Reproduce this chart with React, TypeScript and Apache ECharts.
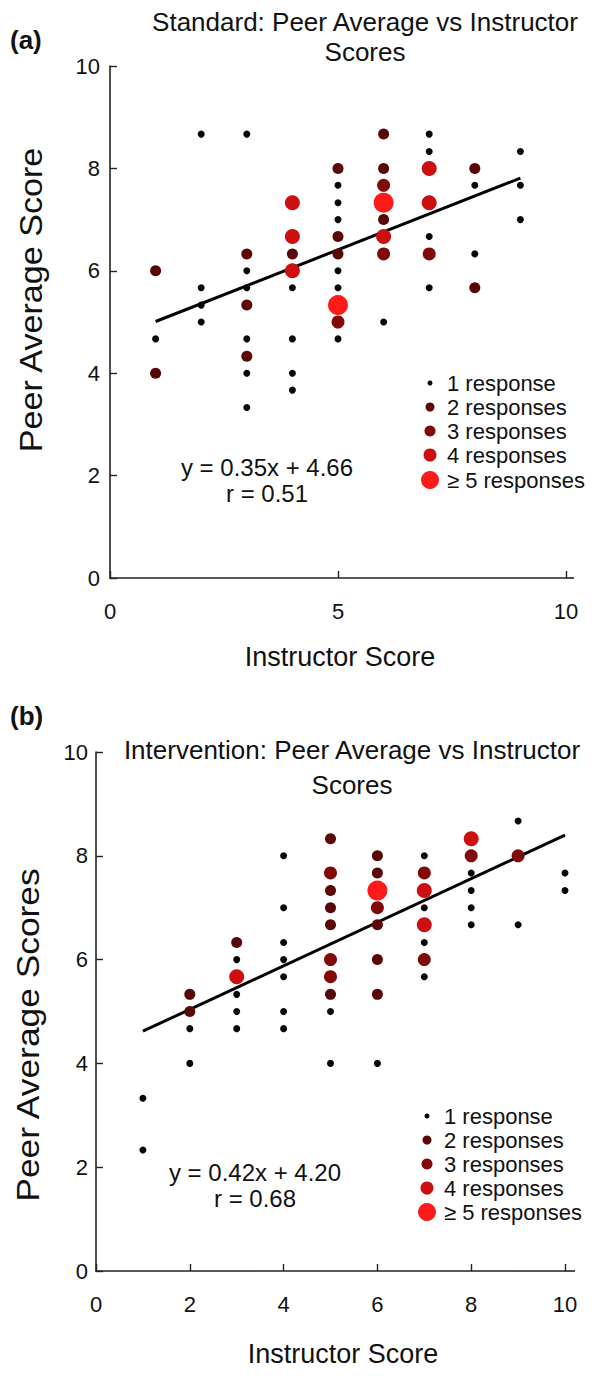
import React, { useEffect, useRef } from "react";
import * as echarts from "echarts";

type Pt = [number, number];

// ---------- Panel (a): Standard ----------
const stdOne: Pt[] = [
  [1, 4.67],
  [2, 8.67], [2, 5.67], [2, 5.33], [2, 5],
  [3, 8.67], [3, 6], [3, 5.67], [3, 4.67], [3, 4], [3, 3.33],
  [4, 5.67], [4, 4.67], [4, 4], [4, 3.67],
  [5, 7.67], [5, 7.33], [5, 7], [5, 6], [5, 5.67], [5, 4.67],
  [6, 5],
  [7, 8.67], [7, 8.33], [7, 6.67], [7, 5.67],
  [8, 7.67], [8, 6.33],
  [9, 8.33], [9, 7.67], [9, 7],
];
const stdTwo: Pt[] = [
  [1, 6], [1, 4],
  [3, 6.33], [3, 5.33], [3, 4.33],
  [4, 6.33],
  [5, 8], [5, 6.67], [5, 6.33],
  [6, 8.67], [6, 8], [6, 7],
  [8, 8], [8, 5.67],
];
const stdThree: Pt[] = [[5, 5], [6, 7.67], [6, 6.33], [7, 6.33]];
const stdFour: Pt[] = [[4, 7.33], [4, 6.67], [4, 6], [6, 6.67], [7, 8], [7, 7.33]];
const stdFive: Pt[] = [[5, 5.33], [6, 7.33]];
const stdSlope = 0.35;
const stdIntercept = 4.66;
const stdR = 0.51;
const stdFitRange = [1, 9];

// ---------- Panel (b): Intervention ----------
const intOne: Pt[] = [
  [1, 3.33], [1, 2.33],
  [2, 4.67], [2, 4],
  [3, 6], [3, 5.33], [3, 5], [3, 4.67],
  [4, 8], [4, 7], [4, 6.33], [4, 6], [4, 5.67], [4, 5], [4, 4.67],
  [5, 5], [5, 4],
  [6, 4],
  [7, 8], [7, 7], [7, 6.33], [7, 5.67],
  [8, 7.67], [8, 7.33], [8, 7], [8, 6.67],
  [9, 8.67], [9, 6.67],
  [10, 7.67], [10, 7.33],
];
const intTwo: Pt[] = [
  [2, 5.33], [2, 5],
  [3, 6.33],
  [5, 8.33], [5, 7.33], [5, 7], [5, 6.67], [5, 5.33],
  [6, 8], [6, 7.67], [6, 6.67], [6, 6], [6, 5.33],
];
const intThree: Pt[] = [[5, 7.67], [5, 6], [5, 5.67], [6, 7], [7, 7.67], [7, 6], [8, 8], [9, 8]];
const intFour: Pt[] = [[3, 5.67], [7, 7.33], [7, 6.67], [8, 8.33]];
const intFive: Pt[] = [[6, 7.33]];
const intSlope = 0.42;
const intIntercept = 4.2;
const intR = 0.68;
const intFitRange = [1, 10];

const stdXTicks = { min: 0, max: 10, interval: 5 };
const intXTicks = { min: 0, max: 10, interval: 2 };
const yTicks = { min: 0, max: 10, interval: 2 };

const responseLabels = ["1 response", "2 responses", "3 responses", "4 responses", "\u2265 5 responses"];
const responseColors = ["#060606", "#5a0707", "#820909", "#cc1010", "#ff1a1a"];
const responseSizes = [7, 11, 13, 15, 20];

const FONT = "'Liberation Sans', Arial, Helvetica, sans-serif";

function fitLine(slope: number, intercept: number, range: number[]): Pt[] {
  return range.map((x) => [x, +(slope * x + intercept).toFixed(4)] as Pt);
}

function txt(text: string, x: number, y: number, size: number, opts: any = {}) {
  return {
    type: "text",
    x,
    y,
    rotation: opts.rotation || 0,
    scaleX: opts.scaleX || 1,
    scaleY: opts.scaleY || 1,
    z: 10,
    style: {
      text,
      fill: "#111",
      fontSize: size,
      fontFamily: FONT,
      fontWeight: opts.bold ? "bold" : "normal",
      align: opts.align || "center",
      verticalAlign: "middle",
      textAlign: opts.align || "center",
      textVerticalAlign: "middle",
    },
  };
}

function legend(markerX: number, textX: number, ys: number[]) {
  const out: any[] = [];
  ys.forEach((y, i) => {
    out.push({
      type: "circle",
      z: 10,
      shape: { cx: markerX, cy: y, r: responseSizes[i] / 2 - (i === 0 ? 1 : 1) },
      style: { fill: responseColors[i] },
    });
    out.push(txt(responseLabels[i], textX, y, 22, { align: "left" }));
  });
  return out;
}

export default function App() {
  const ref = useRef<HTMLDivElement>(null);

  useEffect(() => {
    if (!ref.current) return;
    const chart = echarts.init(ref.current, undefined, { renderer: "svg" });

    const axisCommon = {
      type: "value",
      axisLine: { show: true, lineStyle: { color: "#222", width: 1.6 } },
      axisTick: { show: true, inside: true, length: 7, lineStyle: { color: "#222", width: 1.4 } },
      splitLine: { show: false },
      axisLabel: { color: "#111", fontSize: 22, fontFamily: FONT },
    };

    const groupsA = [stdOne, stdTwo, stdThree, stdFour, stdFive];
    const groupsB = [intOne, intTwo, intThree, intFour, intFive];

    const scatter = (data: Pt[], i: number, idx: number) => ({
      type: "scatter",
      xAxisIndex: idx,
      yAxisIndex: idx,
      data,
      symbol: "circle",
      symbolSize: responseSizes[i],
      itemStyle: { color: responseColors[i], opacity: 1 },
      z: 3 + i,
      silent: true,
    });

    const lineSeries = (data: Pt[], idx: number) => ({
      type: "line",
      xAxisIndex: idx,
      yAxisIndex: idx,
      data,
      symbol: "none",
      lineStyle: { color: "#000", width: 3 },
      z: 2,
      silent: true,
    });

    chart.setOption({
      animation: false,
      backgroundColor: "#fff",
      grid: [
        { left: 110, top: 66, width: 456, height: 512 },
        { left: 96, top: 752, width: 469, height: 519 },
      ],
      xAxis: [
        { ...axisCommon, gridIndex: 0, ...stdXTicks, axisLabel: { ...axisCommon.axisLabel, margin: 22 } },
        { ...axisCommon, gridIndex: 1, ...intXTicks, axisLabel: { ...axisCommon.axisLabel, margin: 22 } },
      ],
      yAxis: [
        { ...axisCommon, gridIndex: 0, ...yTicks, axisLabel: { ...axisCommon.axisLabel, margin: 10 } },
        { ...axisCommon, gridIndex: 1, ...yTicks, axisLabel: { ...axisCommon.axisLabel, margin: 8 } },
      ],
      series: [
        lineSeries(fitLine(stdSlope, stdIntercept, stdFitRange), 0),
        ...groupsA.map((g, i) => scatter(g, i, 0)),
        lineSeries(fitLine(intSlope, intIntercept, intFitRange), 1),
        ...groupsB.map((g, i) => scatter(g, i, 1)),
      ],
      graphic: [
        // axis line extensions past 10
        { type: "line", z: 5, shape: { x1: 566, y1: 578, x2: 574, y2: 578 }, style: { stroke: "#222", lineWidth: 1.6 } },
        { type: "line", z: 5, shape: { x1: 565, y1: 1271, x2: 575, y2: 1271 }, style: { stroke: "#222", lineWidth: 1.6 } },
        // panel (a)
        txt("(a)", 10, 40, 26, { bold: true, align: "left" }),
        txt("Standard: Peer Average vs Instructor", 365, 22, 26),
        txt("Scores", 365, 52, 26),
        txt("Peer Average Score", 32, 300, 31, { rotation: Math.PI / 2, scaleX: 1.1 }),
        txt("Instructor Score", 340, 657, 27),
        txt(`y = ${stdSlope.toFixed(2)}x + ${stdIntercept.toFixed(2)}`, 267, 467, 24),
        txt(`r = ${stdR.toFixed(2)}`, 267, 493, 24),
        ...legend(430, 447, [383, 407, 431, 455, 480]),
        // panel (b)
        txt("(b)", 10, 716, 26, { bold: true, align: "left" }),
        txt("Intervention: Peer Average vs Instructor", 352, 750, 26),
        txt("Scores", 352, 785, 26),
        txt("Peer Average Scores", 28, 1035, 31, { rotation: Math.PI / 2, scaleX: 1.14 }),
        txt("Instructor Score", 343, 1354, 27),
        txt(`y = ${intSlope.toFixed(2)}x + ${intIntercept.toFixed(2)}`, 255, 1172, 24),
        txt(`r = ${intR.toFixed(2)}`, 255, 1198, 24),
        ...legend(427, 444, [1116, 1140, 1164, 1188, 1212]),
      ],
    });

    return () => chart.dispose();
  }, []);

  return (
    <div
      ref={ref}
      style={{ position: "absolute", left: 0, top: 0, width: 616, height: 1380, background: "#fff" }}
    />
  );
}
